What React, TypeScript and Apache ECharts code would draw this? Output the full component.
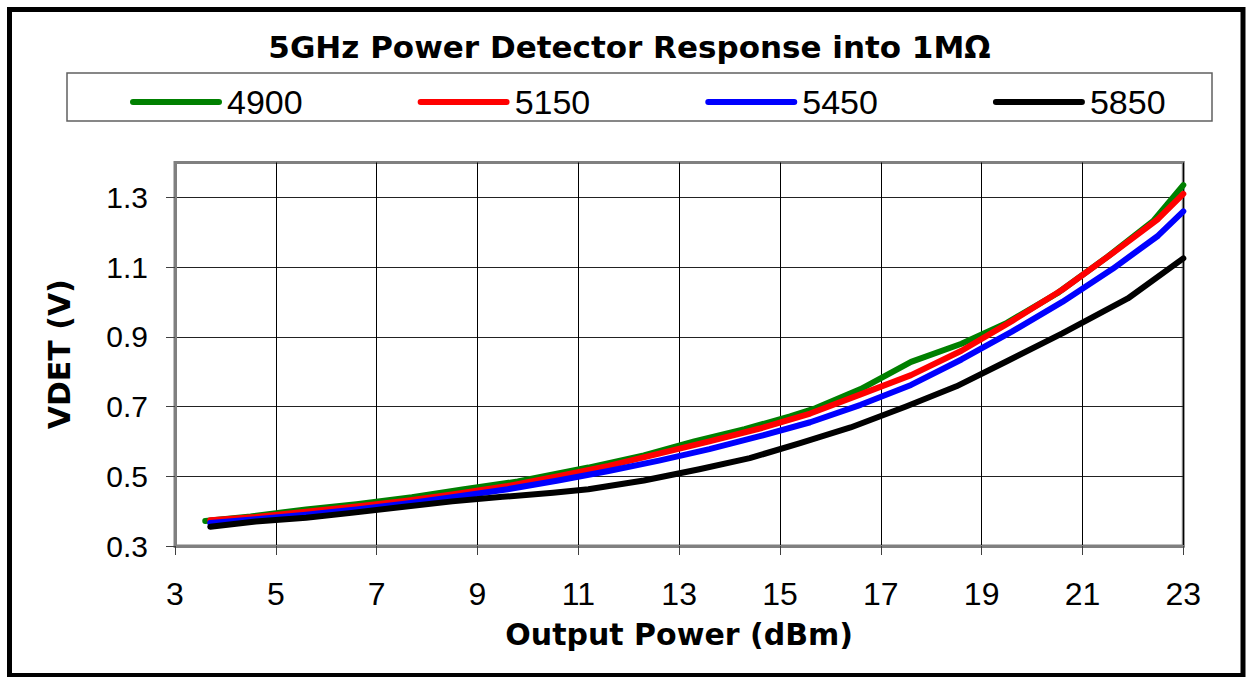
import React, { useEffect, useRef } from 'react';
import * as echarts from 'echarts';

const titleText = '5GHz Power Detector Response into 1MΩ';
const xAxisName = 'Output Power (dBm)';
const yAxisName = 'VDET (V)';
const seriesNames = ['4900', '5150', '5450', '5850'];
const seriesColors = ['#008000', '#FF0000', '#0000FF', '#000000'];
const xTicks = [3, 5, 7, 9, 11, 13, 15, 17, 19, 21, 23];
const yTicks = [0.3, 0.5, 0.7, 0.9, 1.1, 1.3];

const x4900 = [3.6, 4.5, 5.6, 6.6, 7.7, 8.7, 9.8, 10.2, 11.2, 12.3, 13.3, 14.3, 15.2, 15.7, 16.6, 17.6, 18.6, 19.5, 20.5, 21.5, 22.4, 23];
const y4900 = [0.372, 0.385, 0.405, 0.42, 0.44, 0.462, 0.485, 0.497, 0.525, 0.56, 0.6, 0.635, 0.672, 0.695, 0.75, 0.828, 0.88, 0.94, 1.025, 1.13, 1.232, 1.335];

const x5150 = [3.7, 4.6, 5.6, 6.6, 7.6, 8.6, 9.6, 10.6, 11.6, 12.6, 13.6, 14.6, 15.6, 16.6, 17.6, 18.6, 19.6, 20.6, 21.6, 22.5, 23];
const y5150 = [0.374, 0.383, 0.398, 0.413, 0.43, 0.45, 0.472, 0.5, 0.53, 0.565, 0.6, 0.637, 0.68, 0.735, 0.79, 0.86, 0.945, 1.035, 1.14, 1.238, 1.31];

const x5450 = [3.7, 4.6, 5.6, 6.6, 7.6, 8.6, 9.6, 10.6, 11.6, 12.6, 13.6, 14.6, 15.6, 16.6, 17.6, 18.6, 19.6, 20.6, 21.6, 22.5, 23];
const y5450 = [0.366, 0.377, 0.39, 0.405, 0.422, 0.442, 0.463, 0.488, 0.515, 0.545, 0.578, 0.615, 0.655, 0.705, 0.762, 0.835, 0.915, 1.0, 1.095, 1.19, 1.26];

const x5850 = [3.7, 4.6, 5.6, 6.5, 7.5, 8.5, 9.5, 10.5, 11.2, 12.3, 13.4, 14.4, 15.4, 16.4, 17.5, 18.5, 19.5, 20.6, 21.9, 23];
const y5850 = [0.355, 0.37, 0.381, 0.395, 0.412, 0.428, 0.441, 0.453, 0.463, 0.488, 0.52, 0.552, 0.595, 0.64, 0.7, 0.758, 0.83, 0.91, 1.01, 1.125];

const seriesX = [x4900, x5150, x5450, x5850];
const seriesY = [y4900, y5150, y5450, y5850];

const regularFont = '"Liberation Sans", Arial, sans-serif';
const boldFont = '"DejaVu Sans", sans-serif';

export default function App() {
  const ref = useRef<HTMLDivElement>(null);

  useEffect(() => {
    if (!ref.current) return;
    const chart = echarts.init(ref.current, undefined, { renderer: 'svg' });

    const series = seriesNames.map((name, i) => ({
      name,
      type: 'line',
      data: seriesX[i].map((x, j) => [x, seriesY[i][j]]),
      showSymbol: false,
      symbol: 'none',
      smooth: false,
      lineStyle: { color: seriesColors[i], width: 6, cap: 'round', join: 'round' },
      itemStyle: { color: seriesColors[i] },
      emphasis: { disabled: true },
      z: 3 + i,
    }));

    const option = {
      animation: false,
      backgroundColor: '#ffffff',
      grid: {
        left: 175,
        top: 162.5,
        right: 62.7,
        bottom: 131,
        show: true,
        borderColor: '#808080',
        borderWidth: 3,
        backgroundColor: 'transparent',
      },
      legend: {
        data: seriesNames,
        left: 125,
        top: 80,
        icon: 'path://M3,0 L89,0 A3,3 0 0 1 89,6 L3,6 A3,3 0 0 1 3,0 Z',
        itemWidth: 92,
        itemHeight: 6,
        itemGap: 115,
        selectedMode: false,
        textStyle: { fontSize: 34, fontFamily: regularFont, color: '#000' },
      },
      xAxis: {
        type: 'value',
        min: 3,
        max: 23,
        name: xAxisName,
        nameLocation: 'middle',
        nameGap: 73,
        nameTextStyle: { fontFamily: boldFont, fontWeight: 'bold', fontSize: 30, color: '#000' },
        axisLine: { show: true, onZero: false, lineStyle: { color: '#808080', width: 3 } },
        axisTick: { show: true, length: 9, customValues: xTicks, lineStyle: { color: '#404040', width: 1 } },
        axisLabel: { customValues: xTicks, margin: 32, fontSize: 32, fontFamily: regularFont, color: '#000' },
        splitLine: { show: true, lineStyle: { color: '#000', width: 1 } },
      },
      yAxis: {
        type: 'value',
        min: 0.3,
        max: 1.4,
        name: yAxisName,
        nameLocation: 'middle',
        nameGap: 101,
        nameTextStyle: { fontFamily: boldFont, fontWeight: 'bold', fontSize: 30, color: '#000' },
        axisLine: { show: true, onZero: false, lineStyle: { color: '#808080', width: 3 } },
        axisTick: { show: true, length: 9, customValues: yTicks, lineStyle: { color: '#404040', width: 1 } },
        axisLabel: {
          customValues: yTicks,
          margin: 27,
          fontSize: 30,
          fontFamily: regularFont,
          color: '#000',
          formatter: (v: number) => v.toFixed(1),
        },
        splitLine: { show: true, lineStyle: { color: '#222', width: 1 } },
      },
      graphic: [
        {
          type: 'rect',
          shape: { x: 9.5, y: 9.5, width: 1233.5, height: 666 },
          style: { fill: 'none', stroke: '#000', lineWidth: 5 },
          silent: true,
        },
        {
          type: 'rect',
          shape: { x: 67, y: 73, width: 1145, height: 48 },
          style: { fill: 'none', stroke: '#606060', lineWidth: 1.5 },
          silent: true,
        },
        {
          type: 'text',
          x: 629.5,
          y: 46.5,
          style: {
            text: titleText,
            fontFamily: boldFont,
            fontWeight: 'bold',
            fontSize: 31,
            fill: '#000',
            textAlign: 'center',
            textVerticalAlign: 'middle',
          },
          silent: true,
        },
      ],
      series,
    };

    chart.setOption(option as any);
    return () => chart.dispose();
  }, []);

  return (
    <div
      ref={ref}
      style={{ position: 'fixed', left: 0, top: 0, width: 1246, height: 677, background: '#fff' }}
    />
  );
}
